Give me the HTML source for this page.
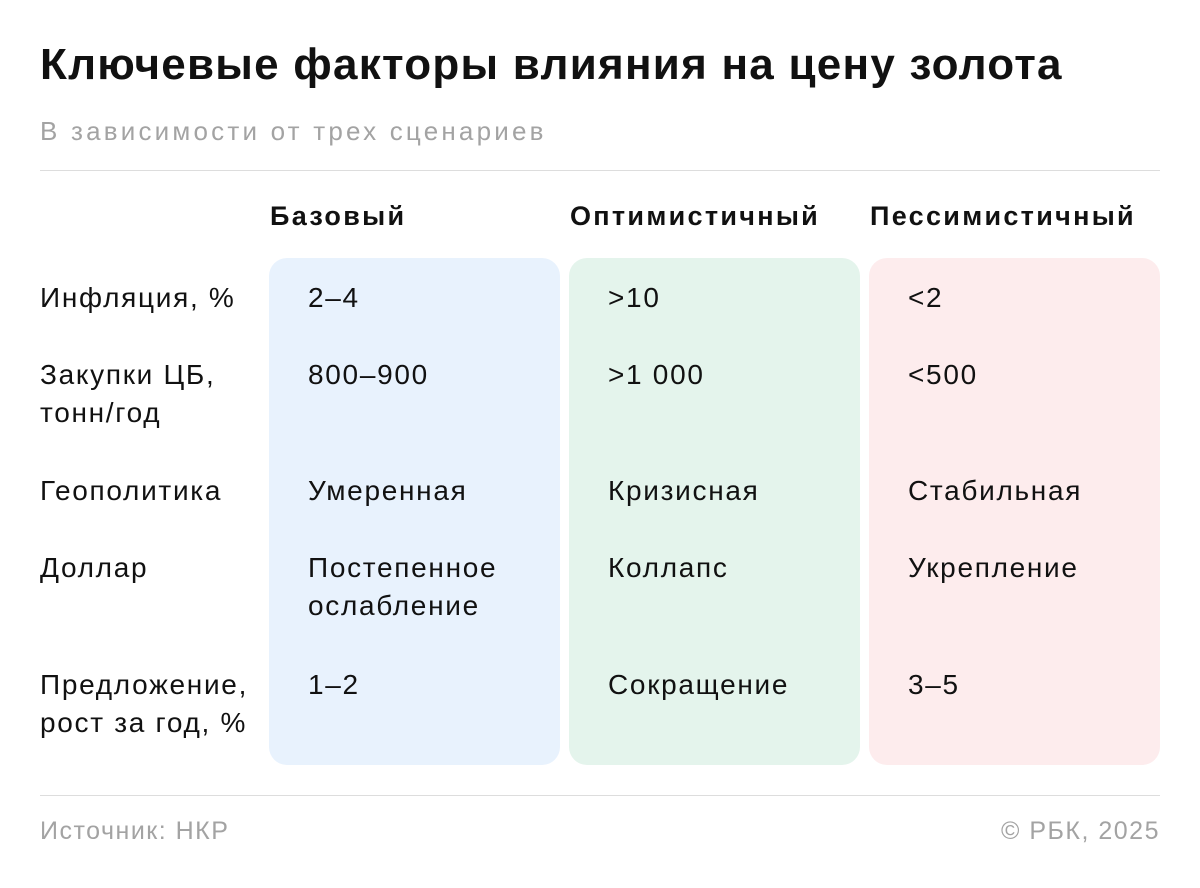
<!DOCTYPE html>
<html><head><meta charset="utf-8"><style>
body{margin:0;width:1200px;height:888px;background:#fff;font-family:"Liberation Sans",sans-serif;color:#111;position:relative;overflow:hidden}
.a{position:absolute;white-space:nowrap}
.t{left:40px;top:40px;font-size:44px;font-weight:bold;letter-spacing:1.25px}
.s{left:40px;top:116px;font-size:26px;color:#a3a3a3;letter-spacing:3.2px}
.line{position:absolute;left:40px;width:1120px;height:1px;background:#ddd}
.h{top:201px;font-size:27px;font-weight:bold;letter-spacing:2.3px}
.box{position:absolute;top:258px;width:291px;height:507px;border-radius:18px}
.c{font-size:28px;line-height:38px;letter-spacing:1.7px}
.f{top:817px;font-size:25px;color:#a3a3a3;letter-spacing:1.5px}
</style></head><body>
<div class="a t">Ключевые факторы влияния на цену золота</div>
<div class="a s">В зависимости от трех сценариев</div>
<div class="line" style="top:170px"></div>
<div class="a h" style="left:270px">Базовый</div>
<div class="a h" style="left:570px">Оптимистичный</div>
<div class="a h" style="left:870px">Пессимистичный</div>
<div class="box" style="left:269px;background:#e8f2fd"></div>
<div class="box" style="left:569px;background:#e4f4ec"></div>
<div class="box" style="left:869px;background:#fdeced"></div>

<div class="a c" style="left:40px;top:279px">Инфляция, %</div>
<div class="a c" style="left:308px;top:279px">2–4</div>
<div class="a c" style="left:608px;top:279px">&gt;10</div>
<div class="a c" style="left:908px;top:279px">&lt;2</div>

<div class="a c" style="left:40px;top:356px">Закупки ЦБ,<br>тонн/год</div>
<div class="a c" style="left:308px;top:356px">800–900</div>
<div class="a c" style="left:608px;top:356px">&gt;1 000</div>
<div class="a c" style="left:908px;top:356px">&lt;500</div>

<div class="a c" style="left:40px;top:472px">Геополитика</div>
<div class="a c" style="left:308px;top:472px">Умеренная</div>
<div class="a c" style="left:608px;top:472px">Кризисная</div>
<div class="a c" style="left:908px;top:472px">Стабильная</div>

<div class="a c" style="left:40px;top:549px">Доллар</div>
<div class="a c" style="left:308px;top:549px">Постепенное<br>ослабление</div>
<div class="a c" style="left:608px;top:549px">Коллапс</div>
<div class="a c" style="left:908px;top:549px">Укрепление</div>

<div class="a c" style="left:40px;top:666px">Предложение,<br>рост за год, %</div>
<div class="a c" style="left:308px;top:666px">1–2</div>
<div class="a c" style="left:608px;top:666px">Сокращение</div>
<div class="a c" style="left:908px;top:666px">3–5</div>

<div class="line" style="top:795px"></div>
<div class="a f" style="left:40px">Источник: НКР</div>
<div class="a f" style="right:40px">© РБК, 2025</div>
</body></html>
